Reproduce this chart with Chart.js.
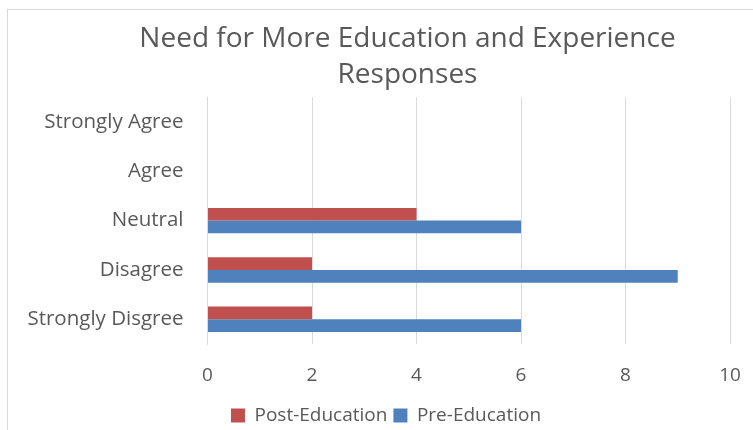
<!DOCTYPE html>
<html><head><meta charset="utf-8">
<script src="https://cdn.jsdelivr.net/npm/chart.js@4/dist/chart.umd.min.js"></script>
<style>
html,body{margin:0;padding:0;background:#fff;overflow:hidden;}
#box{position:absolute;left:7px;top:9px;width:800px;height:460px;border:1px solid #d9d9d9;}
#wrap{position:absolute;left:8px;top:10px;width:745px;height:425px;}
</style></head><body>
<div id="box"></div>
<div id="wrap"><canvas id="c"></canvas></div>
<script>
const categories = ["Strongly Agree", "Agree", "Neutral", "Disagree", "Strongly Disgree"];
const postEducation = [0, 0, 4, 2, 2];
const preEducation = [0, 0, 6, 9, 6];
const xTicks = [0, 2, 4, 6, 8, 10];
const titleLines = ["Need for More Education and Experience", "Responses"];

const FONT = "'Open Sans', sans-serif";
const TXT = "#595959";
const titleShift = {
  id: 'titleShift',
  afterLayout(chart) { if (chart.titleBlock) chart.titleBlock.left += 43; }
};
new Chart(document.getElementById('c'), {
  type: 'bar',
  data: {
    labels: categories,
    datasets: [
      {label: "Post-Education", data: postEducation, backgroundColor: "#C0504D", barPercentage: 1, categoryPercentage: 0.515},
      {label: "Pre-Education", data: preEducation, backgroundColor: "#4F81BD", barPercentage: 1, categoryPercentage: 0.515}
    ]
  },
  plugins: [titleShift],
  options: {
    indexAxis: 'y',
    responsive: true,
    maintainAspectRatio: false,
    animation: false,
    layout: {padding: {left: 18, right: 7, top: 4, bottom: 0}},
    plugins: {
      title: {display: true, text: titleLines, color: TXT, font: {family: FONT, size: 28, weight: 'normal', lineHeight: 1.29}, padding: {top: 7, bottom: 4}},
      legend: {position: 'bottom', labels: {color: TXT, font: {family: FONT, size: 19}, boxWidth: 14, boxHeight: 14, padding: 6}},
      tooltip: {enabled: false}
    },
    scales: {
      x: {
        min: 0, max: 10,
        afterBuildTicks: (s) => { s.ticks = xTicks.map(v => ({value: v})); },
        afterFit: (s) => { s.height = 56; s.paddingRight = 23; s.paddingLeft = 0; },
        grid: {color: "#d9d9d9", drawTicks: false},
        border: {display: false},
        ticks: {color: TXT, font: {family: FONT, size: 19}, padding: 20}
      },
      y: {
        afterFit: (s) => { s.width = 181.5; },
        grid: {display: false, drawTicks: false},
        border: {display: true, color: "#d9d9d9"},
        ticks: {color: TXT, font: {family: FONT, size: 20.5}, padding: 24}
      }
    }
  }
});
</script>
</body></html>
